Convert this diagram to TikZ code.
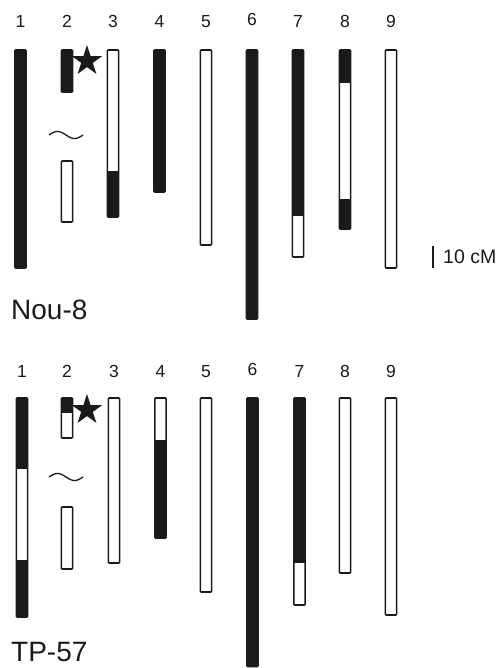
\documentclass[tikz,border=0pt]{standalone}
\usepackage{fontspec}
\setmainfont{Liberation Sans}
\usetikzlibrary{shapes.geometric}
\definecolor{ink}{HTML}{1A1A1A}
\newcommand\chrom[4]{%
  \fill[white] (#1-5.6,#2) rectangle (#1+5.6,#3);
  \foreach \a/\b in {#4} {\fill[ink] (#1-5.6,\a) rectangle (#1+5.6,\b);}
  \draw[chrline] (#1-5.6,#2) rectangle (#1+5.6,#3);}
\begin{document}
\begin{tikzpicture}[x=1pt,y=-1pt,
  chrline/.style={draw=ink,line width=1.6pt,rounded corners=0.8pt},
  numlbl/.style={anchor=base,font=\fontsize{17.5}{17.5}\selectfont,text=ink,inner sep=0},
  panellbl/.style={anchor=base west,font=\fontsize{28}{28}\selectfont,text=ink,inner sep=0},
  starmark/.style={star,star points=5,star point ratio=2.618,fill=ink,draw=none,minimum size=32pt,inner sep=0},
  tildeline/.style={draw=ink,line width=1.3pt}]
\useasboundingbox (0,0) rectangle (503,668);
% ---------------- top panel: Nou-8
\foreach \n/\x/\y in {1/20.5/28,2/67/28,3/113/28,4/159.5/28,5/206/28,6/252/26,7/298/28,8/345/28,9/391/28}
  \node[numlbl] (tn\n) at (\x,\y) {\n};
\chrom{20.5}{50}{268}{50/268}
\chrom{67}{50}{92}{50/92}
\chrom{67}{161}{222}{161/161}
\chrom{113}{50}{217}{171/217}
\chrom{159.5}{50}{192}{50/192}
\chrom{206}{50}{245}{50/50}
\chrom{252}{50}{319}{50/319}
\chrom{298}{50}{257}{50/216}
\chrom{345}{50}{229}{50/83,199/229}
\chrom{391}{50}{268}{50/50}
\node[starmark] (tstar) at (87,61) {};
\draw[tildeline] plot[domain=0:1,samples=40] ({49+34*\x},{135-3.5*sin(360*\x)});
\draw[ink,line width=2.6pt] (433,246) -- (433,268);
\node[anchor=base west,font=\fontsize{19.5}{19.5}\selectfont,text=ink,inner sep=0] (scale) at (443,263) {10 cM};
\node[panellbl] (nou) at (11,319) {Nou-8};
% ---------------- bottom panel: TP-57
\foreach \n/\x/\y in {1/22/377,2/67/377,3/114/377,4/160.5/377,5/206/377,6/252.5/375,7/299.5/377,8/345/377,9/391/377}
  \node[numlbl] (bn\n) at (\x,\y) {\n};
\chrom{22}{398}{617}{398/469,560/617}
\chrom{67}{398}{438}{398/413}
\chrom{67}{507}{569}{507/507}
\chrom{114}{398}{563}{398/398}
\chrom{160.5}{398}{538}{440/538}
\chrom{206}{398}{592}{398/398}
\chrom{252.5}{398}{666.5}{398/666.5}
\chrom{299.5}{398}{605}{398/563}
\chrom{345}{398}{573}{398/398}
\chrom{391}{398}{615}{398/398}
\node[starmark] (bstar) at (87,410) {};
\draw[tildeline] plot[domain=0:1,samples=40] ({49+34*\x},{477-3.5*sin(360*\x)});
\node[panellbl] (tp) at (11,661) {TP-57};
\end{tikzpicture}
\end{document}
